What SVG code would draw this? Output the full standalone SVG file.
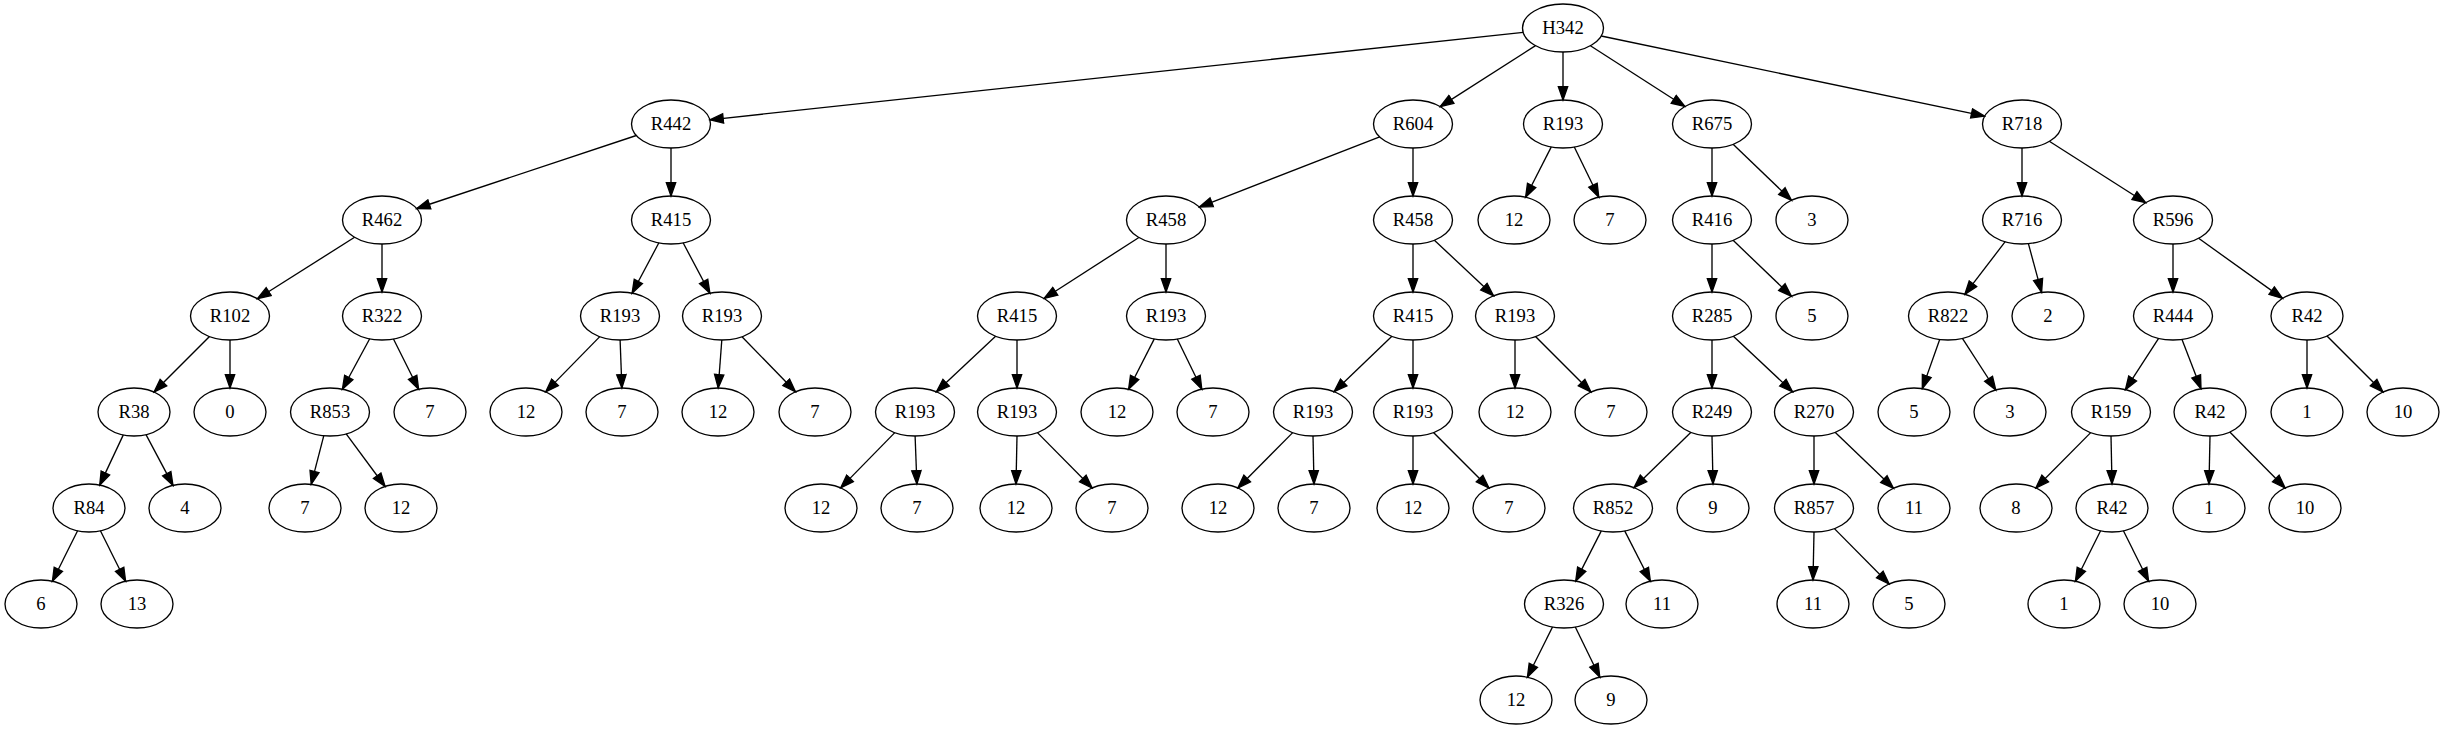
<svg xmlns="http://www.w3.org/2000/svg" width="2444" height="731" viewBox="0 0 2444 731">
<style>
.n ellipse{fill:none;stroke:#000;stroke-width:1.33}
.n text{font-family:"Liberation Serif","Times New Roman",serif;font-size:18.67px;text-anchor:middle;fill:#000}
#edges path{fill:none;stroke:#000;stroke-width:1.33;marker-end:url(#ah)}
</style>
<defs>
<marker id="ah" markerUnits="userSpaceOnUse" markerWidth="16" markerHeight="12" viewBox="-1 -6 16 12" refX="13.33" refY="0" orient="auto">
<path d="M0,-4.67L13.33,0L0,4.67z" fill="#000" stroke="#000" stroke-width="1.33"/>
</marker>
</defs>
<rect width="2444" height="731" fill="#fff"/>
<g id="edges">
<path d="M1523.2,32.3L709.9,119.8"/>
<path d="M1535.5,45.6L1440.2,106.6"/>
<path d="M1563,52L1563,100"/>
<path d="M1590.4,45.7L1684.9,106.5"/>
<path d="M1601.2,36L1984.6,116.2"/>
<path d="M636.3,135.5L416.7,208.5"/>
<path d="M671,148L671,196"/>
<path d="M1379.7,136.9L1199.3,207.1"/>
<path d="M1413,148L1413,196"/>
<path d="M1551.3,146.9L1525.6,197.3"/>
<path d="M1574.3,147L1598.8,197.2"/>
<path d="M1712,148L1712,196"/>
<path d="M1733.1,144.3L1791.5,200.3"/>
<path d="M2022,148L2022,196"/>
<path d="M2049.3,141.3L2145.7,202.7"/>
<path d="M354.6,237.3L257.4,298.7"/>
<path d="M382,244L382,292"/>
<path d="M658.9,242.8L632.1,293.2"/>
<path d="M683.1,242.8L709.9,293.2"/>
<path d="M1138.9,237.5L1044.1,298.5"/>
<path d="M1166,244L1166,292"/>
<path d="M1413,244L1413,292"/>
<path d="M1434.4,240.2L1493.6,295.8"/>
<path d="M1712,244L1712,292"/>
<path d="M1733.1,240.3L1791.5,296.3"/>
<path d="M2005.2,241.7L1964.8,294.3"/>
<path d="M2028.4,243.7L2041.6,292.4"/>
<path d="M2173,244L2173,292"/>
<path d="M2198.6,238.3L2282.5,298.4"/>
<path d="M209.5,336.5L154,392"/>
<path d="M230,340L230,388"/>
<path d="M369.7,338.8L342.4,389.2"/>
<path d="M393.5,339L418.6,389.2"/>
<path d="M599.8,336.6L545.7,391.9"/>
<path d="M620.1,340L621.9,388"/>
<path d="M721.8,340L718.2,388"/>
<path d="M742,336.7L795.5,391.8"/>
<path d="M995.6,336.2L936.4,391.8"/>
<path d="M1017,340L1017,388"/>
<path d="M1154.3,338.9L1128.6,389.3"/>
<path d="M1177.3,339L1201.8,389.2"/>
<path d="M1391.9,336.3L1334.1,391.7"/>
<path d="M1413,340L1413,388"/>
<path d="M1515,340L1515,388"/>
<path d="M1535.5,336.5L1591,392"/>
<path d="M1712,340L1712,388"/>
<path d="M1733.4,336.2L1792.6,391.8"/>
<path d="M1939.7,339.5L1922.3,388.6"/>
<path d="M1962.4,338.3L1995.8,390"/>
<path d="M2158.6,338.3L2125.4,389.7"/>
<path d="M2182,339.4L2201,388.8"/>
<path d="M2307,340L2307,388"/>
<path d="M2327,336L2383,392"/>
<path d="M123.3,434.9L99.7,485.1"/>
<path d="M146,434.6L173,485.4"/>
<path d="M323.8,435.7L311.2,484.4"/>
<path d="M346.2,433.9L385.1,486.5"/>
<path d="M894.8,432.6L840.7,487.9"/>
<path d="M915.1,436L916.9,484"/>
<path d="M1017,436L1016,484"/>
<path d="M1037.4,432.6L1092.2,488"/>
<path d="M1292.7,432.6L1237.8,488"/>
<path d="M1313,436L1314,484"/>
<path d="M1413,436L1413,484"/>
<path d="M1433.5,432.5L1489,488"/>
<path d="M1691,432.3L1634,487.7"/>
<path d="M1712,436L1713,484"/>
<path d="M1814,436L1814,484"/>
<path d="M1835.1,432.3L1893.5,488.3"/>
<path d="M2090.7,432.6L2035.8,488"/>
<path d="M2111,436L2112,484"/>
<path d="M2210,436L2209,484"/>
<path d="M2229.8,432L2285.2,488"/>
<path d="M77.6,530.8L52.4,581.2"/>
<path d="M100.4,530.8L125.6,581.2"/>
<path d="M1601.3,530.9L1575.7,581.1"/>
<path d="M1624.7,530.9L1650.4,581.3"/>
<path d="M1814,532L1813,580"/>
<path d="M1834.4,528.6L1889.2,584"/>
<path d="M2100.6,530.8L2075.4,581.2"/>
<path d="M2123.4,530.8L2148.6,581.2"/>
<path d="M1552.5,627L1527.4,677.2"/>
<path d="M1575.3,627L1599.8,677.2"/>
</g>
<g id="H342" class="n"><ellipse cx="1563" cy="28" rx="40.5" ry="24"/><text x="1563" y="33.6">H342</text></g>
<g id="R442" class="n"><ellipse cx="671" cy="124" rx="39.5" ry="24"/><text x="671" y="129.6">R442</text></g>
<g id="R604" class="n"><ellipse cx="1413" cy="124" rx="39.5" ry="24"/><text x="1413" y="129.6">R604</text></g>
<g id="R193_a" class="n"><ellipse cx="1563" cy="124" rx="39.5" ry="24"/><text x="1563" y="129.6">R193</text></g>
<g id="R675" class="n"><ellipse cx="1712" cy="124" rx="39.5" ry="24"/><text x="1712" y="129.6">R675</text></g>
<g id="R718" class="n"><ellipse cx="2022" cy="124" rx="39.5" ry="24"/><text x="2022" y="129.6">R718</text></g>
<g id="R462" class="n"><ellipse cx="382" cy="220" rx="39.5" ry="24"/><text x="382" y="225.6">R462</text></g>
<g id="R415_a" class="n"><ellipse cx="671" cy="220" rx="39.5" ry="24"/><text x="671" y="225.6">R415</text></g>
<g id="R458_a" class="n"><ellipse cx="1166" cy="220" rx="39.5" ry="24"/><text x="1166" y="225.6">R458</text></g>
<g id="R458_b" class="n"><ellipse cx="1413" cy="220" rx="39.5" ry="24"/><text x="1413" y="225.6">R458</text></g>
<g id="L12_a" class="n"><ellipse cx="1514" cy="220" rx="36" ry="24"/><text x="1514" y="225.6">12</text></g>
<g id="L7_a" class="n"><ellipse cx="1610" cy="220" rx="36" ry="24"/><text x="1610" y="225.6">7</text></g>
<g id="R416" class="n"><ellipse cx="1712" cy="220" rx="39.5" ry="24"/><text x="1712" y="225.6">R416</text></g>
<g id="L3_a" class="n"><ellipse cx="1812" cy="220" rx="36" ry="24"/><text x="1812" y="225.6">3</text></g>
<g id="R716" class="n"><ellipse cx="2022" cy="220" rx="39.5" ry="24"/><text x="2022" y="225.6">R716</text></g>
<g id="R596" class="n"><ellipse cx="2173" cy="220" rx="39.5" ry="24"/><text x="2173" y="225.6">R596</text></g>
<g id="R102" class="n"><ellipse cx="230" cy="316" rx="39.5" ry="24"/><text x="230" y="321.6">R102</text></g>
<g id="R322" class="n"><ellipse cx="382" cy="316" rx="39.5" ry="24"/><text x="382" y="321.6">R322</text></g>
<g id="R193_b" class="n"><ellipse cx="620" cy="316" rx="39.5" ry="24"/><text x="620" y="321.6">R193</text></g>
<g id="R193_c" class="n"><ellipse cx="722" cy="316" rx="39.5" ry="24"/><text x="722" y="321.6">R193</text></g>
<g id="R415_b" class="n"><ellipse cx="1017" cy="316" rx="39.5" ry="24"/><text x="1017" y="321.6">R415</text></g>
<g id="R193_d" class="n"><ellipse cx="1166" cy="316" rx="39.5" ry="24"/><text x="1166" y="321.6">R193</text></g>
<g id="R415_c" class="n"><ellipse cx="1413" cy="316" rx="39.5" ry="24"/><text x="1413" y="321.6">R415</text></g>
<g id="R193_e" class="n"><ellipse cx="1515" cy="316" rx="39.5" ry="24"/><text x="1515" y="321.6">R193</text></g>
<g id="R285" class="n"><ellipse cx="1712" cy="316" rx="39.5" ry="24"/><text x="1712" y="321.6">R285</text></g>
<g id="L5_a" class="n"><ellipse cx="1812" cy="316" rx="36" ry="24"/><text x="1812" y="321.6">5</text></g>
<g id="R822" class="n"><ellipse cx="1948" cy="316" rx="39.5" ry="24"/><text x="1948" y="321.6">R822</text></g>
<g id="L2" class="n"><ellipse cx="2048" cy="316" rx="36" ry="24"/><text x="2048" y="321.6">2</text></g>
<g id="R444" class="n"><ellipse cx="2173" cy="316" rx="39.5" ry="24"/><text x="2173" y="321.6">R444</text></g>
<g id="R42_a" class="n"><ellipse cx="2307" cy="316" rx="36" ry="24"/><text x="2307" y="321.6">R42</text></g>
<g id="R38" class="n"><ellipse cx="134" cy="412" rx="36" ry="24"/><text x="134" y="417.6">R38</text></g>
<g id="L0" class="n"><ellipse cx="230" cy="412" rx="36" ry="24"/><text x="230" y="417.6">0</text></g>
<g id="R853" class="n"><ellipse cx="330" cy="412" rx="39.5" ry="24"/><text x="330" y="417.6">R853</text></g>
<g id="L7_b" class="n"><ellipse cx="430" cy="412" rx="36" ry="24"/><text x="430" y="417.6">7</text></g>
<g id="L12_b" class="n"><ellipse cx="526" cy="412" rx="36" ry="24"/><text x="526" y="417.6">12</text></g>
<g id="L7_c" class="n"><ellipse cx="622" cy="412" rx="36" ry="24"/><text x="622" y="417.6">7</text></g>
<g id="L12_c" class="n"><ellipse cx="718" cy="412" rx="36" ry="24"/><text x="718" y="417.6">12</text></g>
<g id="L7_d" class="n"><ellipse cx="815" cy="412" rx="36" ry="24"/><text x="815" y="417.6">7</text></g>
<g id="R193_f" class="n"><ellipse cx="915" cy="412" rx="39.5" ry="24"/><text x="915" y="417.6">R193</text></g>
<g id="R193_g" class="n"><ellipse cx="1017" cy="412" rx="39.5" ry="24"/><text x="1017" y="417.6">R193</text></g>
<g id="L12_d" class="n"><ellipse cx="1117" cy="412" rx="36" ry="24"/><text x="1117" y="417.6">12</text></g>
<g id="L7_e" class="n"><ellipse cx="1213" cy="412" rx="36" ry="24"/><text x="1213" y="417.6">7</text></g>
<g id="R193_h" class="n"><ellipse cx="1313" cy="412" rx="39.5" ry="24"/><text x="1313" y="417.6">R193</text></g>
<g id="R193_i" class="n"><ellipse cx="1413" cy="412" rx="39.5" ry="24"/><text x="1413" y="417.6">R193</text></g>
<g id="L12_e" class="n"><ellipse cx="1515" cy="412" rx="36" ry="24"/><text x="1515" y="417.6">12</text></g>
<g id="L7_f" class="n"><ellipse cx="1611" cy="412" rx="36" ry="24"/><text x="1611" y="417.6">7</text></g>
<g id="R249" class="n"><ellipse cx="1712" cy="412" rx="39.5" ry="24"/><text x="1712" y="417.6">R249</text></g>
<g id="R270" class="n"><ellipse cx="1814" cy="412" rx="39.5" ry="24"/><text x="1814" y="417.6">R270</text></g>
<g id="L5_b" class="n"><ellipse cx="1914" cy="412" rx="36" ry="24"/><text x="1914" y="417.6">5</text></g>
<g id="L3_b" class="n"><ellipse cx="2010" cy="412" rx="36" ry="24"/><text x="2010" y="417.6">3</text></g>
<g id="R159" class="n"><ellipse cx="2111" cy="412" rx="39.5" ry="24"/><text x="2111" y="417.6">R159</text></g>
<g id="R42_b" class="n"><ellipse cx="2210" cy="412" rx="36" ry="24"/><text x="2210" y="417.6">R42</text></g>
<g id="L1_a" class="n"><ellipse cx="2307" cy="412" rx="36" ry="24"/><text x="2307" y="417.6">1</text></g>
<g id="L10_a" class="n"><ellipse cx="2403" cy="412" rx="36" ry="24"/><text x="2403" y="417.6">10</text></g>
<g id="R84" class="n"><ellipse cx="89" cy="508" rx="36" ry="24"/><text x="89" y="513.6">R84</text></g>
<g id="L4" class="n"><ellipse cx="185" cy="508" rx="36" ry="24"/><text x="185" y="513.6">4</text></g>
<g id="L7_g" class="n"><ellipse cx="305" cy="508" rx="36" ry="24"/><text x="305" y="513.6">7</text></g>
<g id="L12_f" class="n"><ellipse cx="401" cy="508" rx="36" ry="24"/><text x="401" y="513.6">12</text></g>
<g id="L12_g" class="n"><ellipse cx="821" cy="508" rx="36" ry="24"/><text x="821" y="513.6">12</text></g>
<g id="L7_h" class="n"><ellipse cx="917" cy="508" rx="36" ry="24"/><text x="917" y="513.6">7</text></g>
<g id="L12_h" class="n"><ellipse cx="1016" cy="508" rx="36" ry="24"/><text x="1016" y="513.6">12</text></g>
<g id="L7_i" class="n"><ellipse cx="1112" cy="508" rx="36" ry="24"/><text x="1112" y="513.6">7</text></g>
<g id="L12_i" class="n"><ellipse cx="1218" cy="508" rx="36" ry="24"/><text x="1218" y="513.6">12</text></g>
<g id="L7_j" class="n"><ellipse cx="1314" cy="508" rx="36" ry="24"/><text x="1314" y="513.6">7</text></g>
<g id="L12_j" class="n"><ellipse cx="1413" cy="508" rx="36" ry="24"/><text x="1413" y="513.6">12</text></g>
<g id="L7_k" class="n"><ellipse cx="1509" cy="508" rx="36" ry="24"/><text x="1509" y="513.6">7</text></g>
<g id="R852" class="n"><ellipse cx="1613" cy="508" rx="39.5" ry="24"/><text x="1613" y="513.6">R852</text></g>
<g id="L9_a" class="n"><ellipse cx="1713" cy="508" rx="36" ry="24"/><text x="1713" y="513.6">9</text></g>
<g id="R857" class="n"><ellipse cx="1814" cy="508" rx="39.5" ry="24"/><text x="1814" y="513.6">R857</text></g>
<g id="L11_a" class="n"><ellipse cx="1914" cy="508" rx="36" ry="24"/><text x="1914" y="513.6">11</text></g>
<g id="L8" class="n"><ellipse cx="2016" cy="508" rx="36" ry="24"/><text x="2016" y="513.6">8</text></g>
<g id="R42_c" class="n"><ellipse cx="2112" cy="508" rx="36" ry="24"/><text x="2112" y="513.6">R42</text></g>
<g id="L1_b" class="n"><ellipse cx="2209" cy="508" rx="36" ry="24"/><text x="2209" y="513.6">1</text></g>
<g id="L10_b" class="n"><ellipse cx="2305" cy="508" rx="36" ry="24"/><text x="2305" y="513.6">10</text></g>
<g id="L6" class="n"><ellipse cx="41" cy="604" rx="36" ry="24"/><text x="41" y="609.6">6</text></g>
<g id="L13" class="n"><ellipse cx="137" cy="604" rx="36" ry="24"/><text x="137" y="609.6">13</text></g>
<g id="R326" class="n"><ellipse cx="1564" cy="604" rx="39.5" ry="24"/><text x="1564" y="609.6">R326</text></g>
<g id="L11_b" class="n"><ellipse cx="1662" cy="604" rx="36" ry="24"/><text x="1662" y="609.6">11</text></g>
<g id="L11_c" class="n"><ellipse cx="1813" cy="604" rx="36" ry="24"/><text x="1813" y="609.6">11</text></g>
<g id="L5_c" class="n"><ellipse cx="1909" cy="604" rx="36" ry="24"/><text x="1909" y="609.6">5</text></g>
<g id="L1_c" class="n"><ellipse cx="2064" cy="604" rx="36" ry="24"/><text x="2064" y="609.6">1</text></g>
<g id="L10_c" class="n"><ellipse cx="2160" cy="604" rx="36" ry="24"/><text x="2160" y="609.6">10</text></g>
<g id="L12_k" class="n"><ellipse cx="1516" cy="700" rx="36" ry="24"/><text x="1516" y="705.6">12</text></g>
<g id="L9_b" class="n"><ellipse cx="1611" cy="700" rx="36" ry="24"/><text x="1611" y="705.6">9</text></g>
</svg>
